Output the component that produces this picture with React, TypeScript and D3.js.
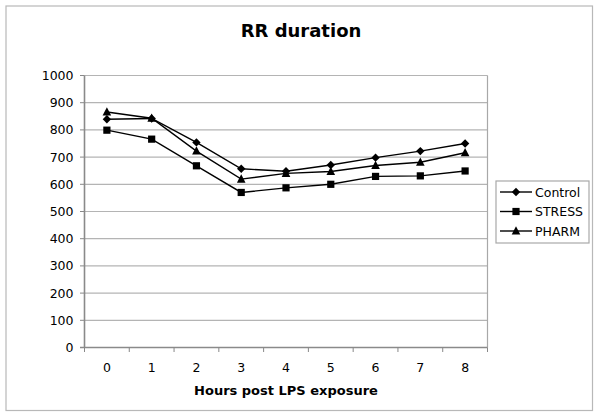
import React from "react";
import * as d3 from "d3";

const hours = ["0", "1", "2", "3", "4", "5", "6", "7", "8"];
const control = [839, 842, 754, 657, 648, 671, 698, 722, 750];
const stress = [799, 766, 668, 570, 587, 600, 629, 631, 649];
const pharm = [866, 843, 722, 619, 640, 647, 669, 681, 716];
const yTicks = [0, 100, 200, 300, 400, 500, 600, 700, 800, 900, 1000];
const seriesNames = ["Control", "STRESS", "PHARM"];

const FONT = "'DejaVu Sans', Verdana, sans-serif";

function Marker({ kind, x, y }: { kind: string; x: number; y: number }) {
  if (kind === "Control") {
    const s = 4.2;
    return <path d={`M${x},${y - s}L${x + s},${y}L${x},${y + s}L${x - s},${y}Z`} fill="#000" />;
  }
  if (kind === "STRESS") {
    const s = 3.6;
    return <rect x={x - s} y={y - s} width={2 * s} height={2 * s} fill="#000" />;
  }
  const s = 4.3;
  return <path d={`M${x},${y - s - 0.5}L${x + s},${y + s - 0.8}L${x - s},${y + s - 0.8}Z`} fill="#000" />;
}

export default function App() {
  const W = 601, H = 416;
  const left = 84.5, right = 487.5, top = 75.5, bottom = 347.5;
  const x = d3.scaleBand<string>().domain(hours).range([left, right]);
  const y = d3.scaleLinear().domain([0, 1000]).range([bottom, top]);
  const cx = (h: string) => (x(h) as number) + x.bandwidth() / 2;
  const line = d3
    .line<number>()
    .x((_, i) => cx(hours[i]))
    .y((v) => y(v));
  const allSeries = [control, stress, pharm];
  const boundaries = hours.map((h) => x(h) as number).concat([right]);

  return (
    <svg
      width={W}
      height={H}
      style={{ position: "absolute", left: 0, top: 0, background: "#fff" }}
      fontFamily={FONT}
    >
      <rect x={0} y={0} width={W} height={H} fill="#fff" />
      <rect x={6} y={6} width={586.5} height={404.5} fill="none" stroke="#b8b8b8" strokeWidth={1.2} />
      <text x={301} y={37} textAnchor="middle" fontSize={18} fontWeight="bold" fill="#000">
        RR duration
      </text>

      {yTicks.map((t) => (
        <g key={t}>
          {t > 0 && (
            <line x1={left} x2={right} y1={y(t)} y2={y(t)} stroke="#b4b4b4" strokeWidth={1.2} />
          )}
          <line x1={left - 4.5} x2={left} y1={y(t)} y2={y(t)} stroke="#888" strokeWidth={1} />
          <text x={73.5} y={y(t)} dy="0.36em" textAnchor="end" fontSize={12.5} fill="#000">
            {t}
          </text>
        </g>
      ))}
      <line x1={right} x2={right} y1={top} y2={bottom} stroke="#a8a8a8" strokeWidth={1.2} />
      <line x1={left} x2={left} y1={top} y2={bottom} stroke="#8a8a8a" strokeWidth={1.6} />
      <line x1={left - 4.5} x2={right} y1={bottom} y2={bottom} stroke="#8a8a8a" strokeWidth={1.6} />
      {boundaries.map((b, i) => (
        <line key={i} x1={b} x2={b} y1={bottom} y2={bottom + 4.5} stroke="#888" strokeWidth={1} />
      ))}
      {hours.map((h) => (
        <text key={h} x={cx(h)} y={372} textAnchor="middle" fontSize={12.5} fill="#000">
          {h}
        </text>
      ))}
      <text x={286} y={394.5} textAnchor="middle" fontSize={13} fontWeight="bold" fill="#000">
        Hours post LPS exposure
      </text>

      {allSeries.map((s, si) => (
        <g key={si}>
          <path d={line(s) as string} fill="none" stroke="#000" strokeWidth={1.4} />
          {s.map((v, i) => (
            <Marker key={i} kind={seriesNames[si]} x={cx(hours[i])} y={y(v)} />
          ))}
        </g>
      ))}

      <rect x={496} y={181} width={93} height={62} fill="#fff" stroke="#a8a8a8" strokeWidth={1.2} />
      {seriesNames.map((n, i) => {
        const ly = 192 + i * 19.5;
        return (
          <g key={n}>
            <line x1={500} x2={532} y1={ly} y2={ly} stroke="#000" strokeWidth={1.4} />
            <Marker kind={n} x={516} y={ly} />
            <text x={535} y={ly} dy="0.36em" fontSize={12.5} fill="#000">
              {n}
            </text>
          </g>
        );
      })}
    </svg>
  );
}
